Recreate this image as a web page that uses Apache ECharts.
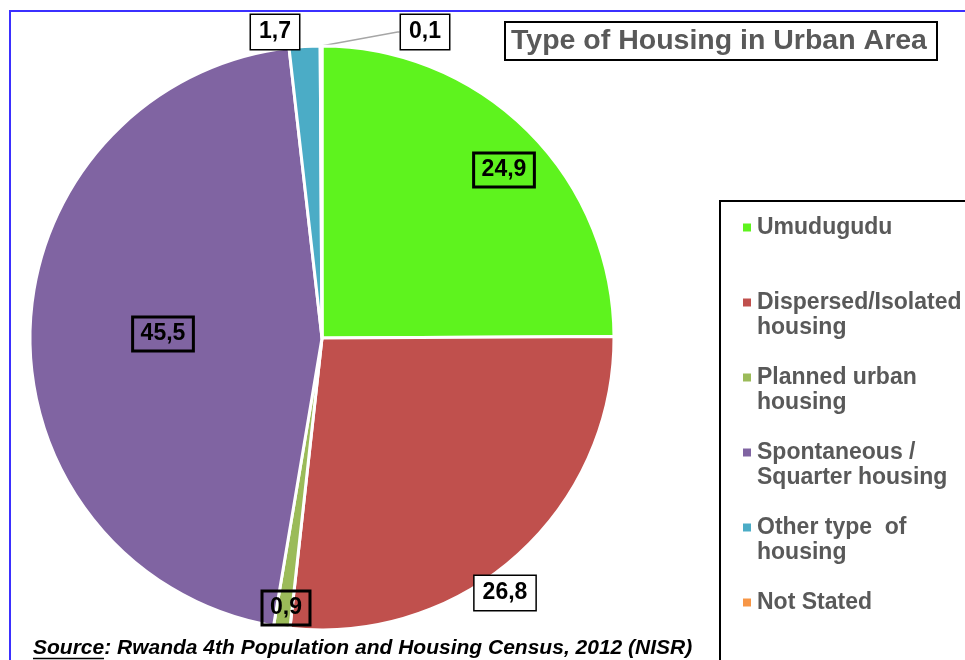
<!DOCTYPE html>
<html>
<head>
<meta charset="utf-8">
<script src="https://cdn.jsdelivr.net/npm/echarts@6/dist/echarts.min.js"></script>
<style>
  html, body { margin: 0; padding: 0; background: #fff; }
  #main { width: 965px; height: 660px; }
</style>
</head>
<body>
<div id="main"></div>
<script>
// data
const categories = ['Umudugudu', 'Dispersed/Isolated housing', 'Planned urban housing',
  'Spontaneous / Squarter housing', 'Other type of housing', 'Not Stated']
const shares = [24.9, 26.8, 0.9, 45.5, 1.7, 0.1]
const legendText = ['Umudugudu\n ', 'Dispersed/Isolated\nhousing', 'Planned urban\nhousing',
  'Spontaneous /\nSquarter housing', 'Other type  of\nhousing', 'Not Stated\n ']

// styles
const colors = ['#5ef31e', '#c0504d', '#9bbb59', '#8064a2', '#4bacc6', '#f79646']
const labelPos = [[504, 170], [505, 593], [286, 608], [163, 334], [275, 32], [425, 32]]
const labelBg = ['transparent', '#fff', 'transparent', 'transparent', '#fff', '#fff']

const myChart = echarts.init(document.getElementById('main'))

myChart.setOption({
  animation: false,
  color: colors,
  title: {
    text: 'Type of Housing in Urban Area',
    left: 505,
    top: 22,
    padding: [3, 10, 3, 6],
    borderColor: '#000',
    borderWidth: 2,
    textStyle: {
      fontFamily: 'Liberation Sans, Arial',
      fontWeight: 'bold',
      fontSize: 28.5,
      lineHeight: 32,
      color: '#595959'
    }
  },
  legend: {
    orient: 'vertical',
    left: 741,
    top: 190,
    padding: 0,
    itemGap: 0,
    itemWidth: 10,
    itemHeight: 10,
    icon: 'rect',
    data: categories,
    formatter: function (name) {
      // blank first line so the first text line sits level with the icon
      return ' \n' + legendText[categories.indexOf(name)]
    },
    textStyle: {
      fontFamily: 'Liberation Sans, Arial',
      fontWeight: 'bold',
      fontSize: 23,
      lineHeight: 25,
      color: '#595959'
    }
  },
  graphic: [
    {
      type: 'rect',
      shape: { x: 10, y: 11, width: 1000, height: 700 },
      style: { fill: 'none', stroke: '#3b30ff', lineWidth: 2 },
      silent: true
    },
    {
      type: 'rect',
      shape: { x: 720, y: 201, width: 400, height: 600 },
      style: { fill: 'none', stroke: '#000', lineWidth: 2 },
      silent: true
    },
    {
      type: 'text',
      left: 33,
      top: 638,
      style: {
        text: 'Source: Rwanda 4th Population and Housing Census, 2012 (NISR)',
        fontFamily: 'Liberation Sans, Arial',
        fontWeight: 'bold',
        fontStyle: 'italic',
        fontSize: 21,
        fill: '#000'
      }
    },
    {
      type: 'line',
      shape: { x1: 33, y1: 658.5, x2: 104, y2: 658.5 },
      style: { stroke: '#000', lineWidth: 1.5 }
    }
  ],
  series: [
    {
      type: 'pie',
      center: [322, 338],
      radius: 292,
      startAngle: 90,
      clockwise: true,
      avoidLabelOverlap: false,
      itemStyle: {
        borderColor: '#fff',
        borderWidth: 3
      },
      label: {
        show: true,
        position: 'outside',
        formatter: function (p) {
          return String(p.value).replace('.', ',')
        },
        fontFamily: 'Liberation Sans, Arial',
        fontWeight: 'bold',
        fontSize: 23,
        lineHeight: 26,
        color: '#000',
        borderColor: '#000',
        borderWidth: 1.5,
        padding: [5, 8, 3, 8]
      },
      labelLine: { show: false },
      labelLayout: function (params) {
        const pos = labelPos[params.dataIndex]
        return { x: pos[0], y: pos[1], align: 'center', verticalAlign: 'middle' }
      },
      data: categories.map(function (name, i) {
        const item = {
          name: name,
          value: shares[i],
          label: { backgroundColor: labelBg[i] }
        }
        if (i === 5) {
          item.labelLine = { show: true, length: 2, length2: 2, lineStyle: { color: '#a6a6a6', width: 1.5 } }
        }
        return item
      })
    }
  ]
})
</script>
</body>
</html>
